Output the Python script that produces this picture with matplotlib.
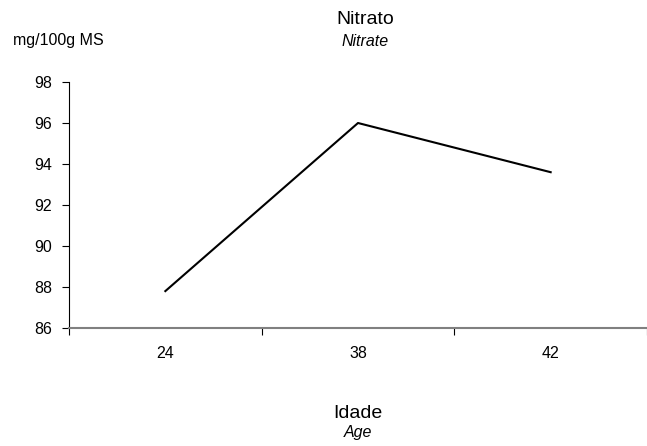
import matplotlib.pyplot as plt

plt.rcParams["font.family"] = ["Liberation Sans", "DejaVu Sans"]

# Nitrate content by age
ages = ["24", "38", "42"]
nitrate = [87.8, 96.0, 93.6]
y_ticks = [86, 88, 90, 92, 94, 96, 98]

fig = plt.figure(figsize=(6.47, 4.46), dpi=100)
ax = fig.add_axes([69 / 647, 1 - 328 / 446, 578 / 647, 246 / 446])

x = range(len(ages))
ax.plot(x, nitrate, color="black", lw=1.5)

ax.set_xlim(-0.5, len(ages) - 0.5)
ax.set_ylim(86, 98)
ax.set_yticks(y_ticks)
# category boundaries get the tick marks, labels sit in the middle
ax.set_xticks([i + 0.5 for i in range(-1, len(ages))])
ax.set_xticklabels([])
ax.set_xticks(list(x), minor=True)
ax.set_xticklabels(ages, minor=True)
ax.tick_params(axis="x", which="minor", length=0, pad=13, labelsize=11.5)
ax.tick_params(axis="x", which="major", length=5, width=0.8, color="black")
ax.tick_params(axis="y", length=5, width=0.8, labelsize=11.5, pad=7)

for side in ("top", "right"):
    ax.spines[side].set_visible(False)
ax.spines["left"].set_color("black")
ax.spines["left"].set_linewidth(0.8)
ax.spines["bottom"].set_color("#808080")
ax.spines["bottom"].set_linewidth(1.5)

fig.text(365 / 647, 1 - 20 / 446, "Nitrato", ha="center", va="center", fontsize=14)
fig.text(365 / 647, 1 - 42 / 446, "Nitrate", ha="center", va="center",
         fontsize=11.5, style="italic")
fig.text(13 / 647, 1 - 41 / 446, "mg/100g MS", ha="left", va="center", fontsize=11.5)
fig.text(358 / 647, 1 - 414 / 446, "Idade", ha="center", va="center", fontsize=14)
fig.text(358 / 647, 1 - 433 / 446, "Age", ha="center", va="center",
         fontsize=11.5, style="italic")

fig.savefig("out.png", dpi=100)
